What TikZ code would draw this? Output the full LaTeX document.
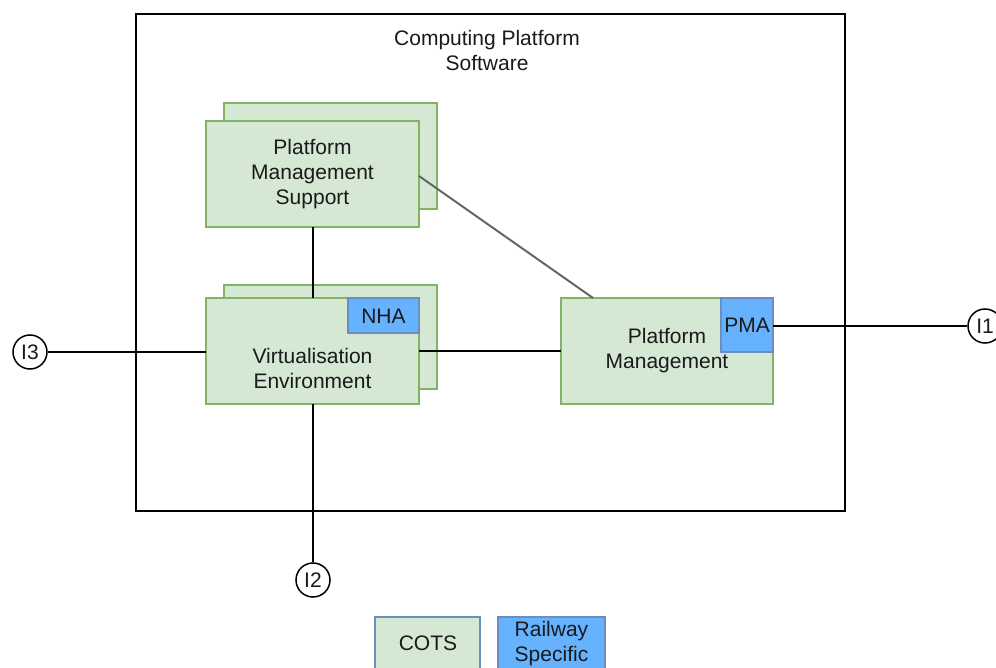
\documentclass[tikz,border=0pt]{standalone}
\usepackage{fontspec}
\setmainfont{Liberation Sans}
\definecolor{cotsfill}{HTML}{D5E8D4}
\definecolor{cotsline}{HTML}{82B366}
\definecolor{railfill}{HTML}{66B2FF}
\definecolor{railline}{HTML}{6C8EBF}
\definecolor{txt}{HTML}{1A1A1A}
\tikzset{
  lbl/.style={font=\fontsize{21}{25}\selectfont, text=txt, align=center, inner sep=0pt},
  cots/.style={draw=cotsline, fill=cotsfill, line width=1.5pt},
  rail/.style={draw=railline, fill=railfill, line width=1.5pt},
  wire/.style={draw=black, line width=1.5pt},
  softwire/.style={draw=black!60, line width=2pt},
  iface/.style={circle, draw=black, line width=1.5pt, fill=white, minimum size=34pt, inner sep=0pt, font=\fontsize{21}{25}\selectfont, text=txt}
}
\begin{document}
\begin{tikzpicture}[x=1pt, y=-1pt]
\useasboundingbox (0,0) rectangle (996,668);

% outer platform frame
\draw[line width=1.5pt] (136,14) rectangle (845,511);
\node[lbl] (title) at (487,50) {Computing Platform\\Software};

% stacked Platform Management Support
\draw[cots] (224,103) rectangle (437,209);
\draw[cots] (206,121) rectangle (419,227);
\coordinate (pmsL) at (206,174);
\coordinate (pmsR) at (419,176);
\coordinate (pmsB) at (313,227);
\node[lbl] (pms) at (312.5,174) {Platform\\Management\\Support};

% stacked Virtualisation Environment
\draw[cots] (224,285) rectangle (437,389);
\draw[cots] (206,298) rectangle (419,404);
\coordinate (veL) at (206,352);
\coordinate (veR) at (419,351);
\coordinate (veT) at (313,298);
\coordinate (veB) at (313,404);
\node[lbl] (ve) at (312.5,368) {Virtualisation\\Environment};
\draw[rail] (348,298) rectangle (419,333);
\node[lbl] (nha) at (383.5,316) {NHA};

% Platform Management
\draw[cots] (561,298) rectangle (773,404);
\coordinate (pmL) at (561,351);
\coordinate (pmT) at (593,298);
\node[lbl] (pm) at (667,351) {Platform\\Management};
\draw[rail] (721,298) rectangle (773,352);
\coordinate (pmaR) at (773,326);
\node[lbl] (pma) at (747,325) {PMA};

% external interfaces
\node[iface] (i3) at (30,352) {I3};
\node[iface] (i1) at (985,326) {I1};
\node[iface] (i2) at (313,580) {I2};

% connectors
\draw[wire] (i3) -- (veL);
\draw[wire] (veR) -- (pmL);
\draw[wire] (pmaR) -- (i1);
\draw[wire] (veB) -- (i2);
\draw[wire] (pmsB) -- (veT);
\draw[softwire] (pmsR) -- (pmT);

% legend
\draw[cots, draw=railline] (375,617) rectangle (480,675);
\node[lbl] (lcots) at (428,643) {COTS};
\draw[rail] (498,617) rectangle (605,675);
\node[lbl] (lrail) at (551.5,644) {Railway\\Specific};
\end{tikzpicture}
\end{document}
